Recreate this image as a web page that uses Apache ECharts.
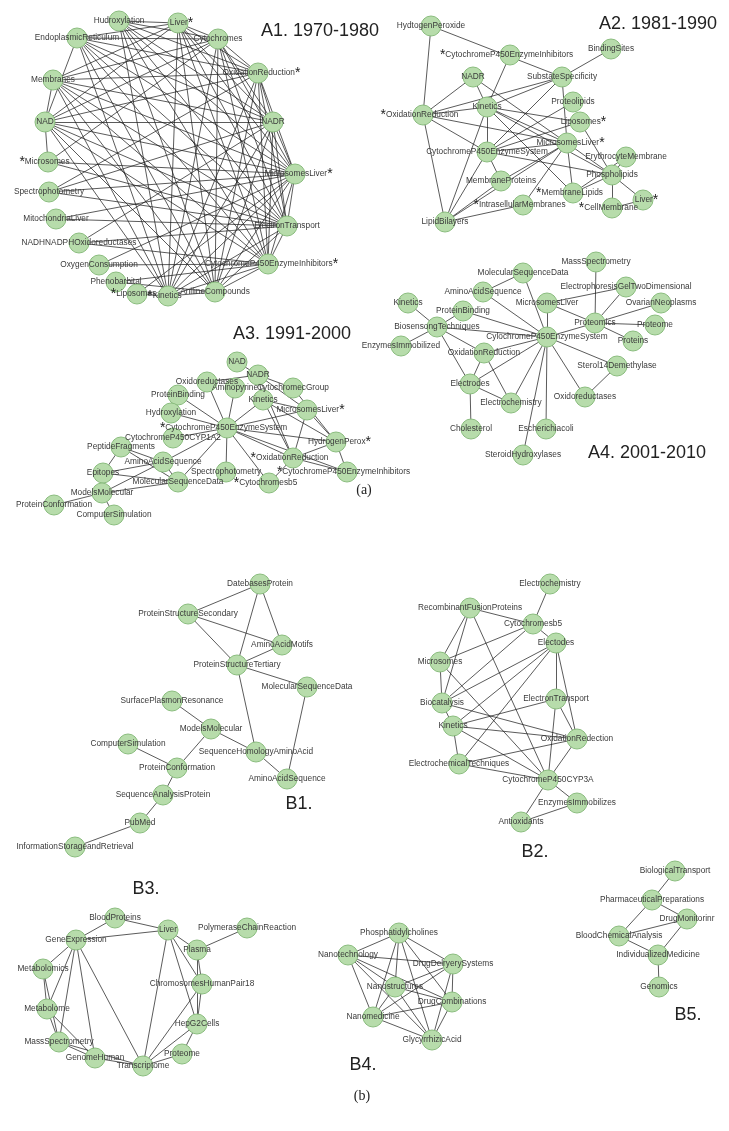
<!DOCTYPE html>
<html><head><meta charset="utf-8">
<script src="https://cdn.jsdelivr.net/npm/echarts/dist/echarts.min.js"></script>
<style>html,body{margin:0;padding:0;background:#fff}#c{width:729px;height:1131px}</style>
</head><body><div id="c"></div>
<script>
// ---------- DATA ----------
// Node lists: [label, x, y] (layout coordinates of the original figure, 729 x 1131 space)
const a1Nodes = [
  ["Hudroxylation",119,21],["Liver*",178,23],["EndoplasmicReticulum",77,38],["Cytochromes",218,39],
  ["OxidationReduction*",258,73],["Membranes",53,80],["NAD",45,122],["NADR",273,122],
  ["*Microsomes",48,162],["MicrosomesLiver*",295,174],["Spectrophotometry",49,192],["MitochondriaLiver",56,219],
  ["ElectronTransport",287,226],["NADHNADPHOxidoreductases",79,243],["CytochromeP450EnzymeInhibitors*",268,264],
  ["OxygenConsumption",99,265],["Phenobarbital",116,282],["AnilineCompounds",215,292],["*Liposomes",137,294],["*Kinetics",168,296]
];
// A1 adjacency (neighbour indices with higher index)
const a1Adj = [
  [1,3,4,7,9,12,14,17,19],
  [2,3,4,5,6,7,9,12,14,17,19],
  [3,4,6,7,9,12,14,17,19],
  [4,5,6,7,8,9,12,14,17,19],
  [5,6,7,9,10,12,14,17,19],
  [6,7,9,12,14,17,19],
  [7,8,9,12,14,17,19],
  [9,10,12,13,14,17,19],
  [9,12],
  [10,11,12,14,15,17,18,19],
  [12],
  [12],
  [13,14,17,19],
  [14],
  [15,16,17,19],
  [],
  [17],
  [19],
  [19],
  []
];

const a2Nodes = [
  ["HydtogenPeroxide",431,26],["*CytochromeP450EnzymeInhibitors",510,55],["BindingSites",611,49],["NADR",473,77],
  ["SubstateSpecificity",562,77],["Proteolipids",573,102],["Kinetics",487,107],["*OxidationReduction",423,115],
  ["Liposomes*",580,122],["MicrosomesLiver*",567,143],["CytochromeP450EnzymeSystem",487,152],["ErythrocyteMembrane",626,157],
  ["Phospholipids",612,175],["MembraneProteins",501,181],["*MembraneLipids",573,193],["*IntrasellularMembranes",523,205],
  ["Liver*",643,200],["*CellMembrane",612,208],["LipidBilayers",445,222]
];
const a2Links = [
  ["HydtogenPeroxide","*OxidationReduction"],["HydtogenPeroxide","SubstateSpecificity"],
  ["*CytochromeP450EnzymeInhibitors","Kinetics"],["BindingSites","SubstateSpecificity"],
  ["*OxidationReduction","NADR"],["*OxidationReduction","Kinetics"],["*OxidationReduction","SubstateSpecificity"],
  ["*OxidationReduction","CytochromeP450EnzymeSystem"],["*OxidationReduction","MicrosomesLiver*"],["*OxidationReduction","LipidBilayers"],
  ["NADR","Kinetics"],["NADR","MicrosomesLiver*"],
  ["Kinetics","SubstateSpecificity"],["Kinetics","CytochromeP450EnzymeSystem"],["Kinetics","Liposomes*"],["Kinetics","MicrosomesLiver*"],
  ["Kinetics","Phospholipids"],["Kinetics","*MembraneLipids"],["Kinetics","LipidBilayers"],
  ["SubstateSpecificity","CytochromeP450EnzymeSystem"],["SubstateSpecificity","MicrosomesLiver*"],
  ["Proteolipids","CytochromeP450EnzymeSystem"],["Liposomes*","CytochromeP450EnzymeSystem"],["Liposomes*","Phospholipids"],
  ["MicrosomesLiver*","CytochromeP450EnzymeSystem"],["MicrosomesLiver*","MembraneProteins"],["MicrosomesLiver*","*IntrasellularMembranes"],
  ["MicrosomesLiver*","*MembraneLipids"],["MicrosomesLiver*","Phospholipids"],["MicrosomesLiver*","LipidBilayers"],
  ["CytochromeP450EnzymeSystem","MembraneProteins"],["CytochromeP450EnzymeSystem","Phospholipids"],["CytochromeP450EnzymeSystem","LipidBilayers"],
  ["Phospholipids","ErythrocyteMembrane"],["Phospholipids","*MembraneLipids"],["Phospholipids","*CellMembrane"],["Phospholipids","Liver*"],
  ["*CellMembrane","Liver*"],["MembraneProteins","LipidBilayers"],["*IntrasellularMembranes","LipidBilayers"],["ErythrocyteMembrane","*MembraneLipids"]
];

const a3Nodes = [
  ["NAD",237,362],["NADR",258,375],["Oxidoreductases",207,382],["Aminopyrine",235,388],["CytochromecGroup",293,388],
  ["ProteinBinding",178,395],["Kinetics",263,400],["MicrosomesLiver*",307,410],["Hydroxylation",171,413],
  ["*CytochromeP450EnzymeSystem",227,428],["CytochromeP450CYP1A2",173,438],["HydrogenPerox*",336,442],
  ["PeptideFragments",121,447],["*OxidationReduction",293,458],["AminoAcidSequence",163,462],["Epitopes",103,473],
  ["Spectrophotometry",226,472],["*CytochromeP450EnzymeInhibitors",347,472],["MolecularSequenceData",178,482],
  ["*Cytochromesb5",269,483],["ModelsMolecular",102,493],["ProteinConformation",54,505],["ComputerSimulation",114,515]
];
const a3Links = [
  ["NAD","NADR"],["NADR","Oxidoreductases"],["NADR","Kinetics"],["NADR","CytochromecGroup"],["NADR","MicrosomesLiver*"],["NADR","*OxidationReduction"],
  ["Oxidoreductases","*CytochromeP450EnzymeSystem"],["Aminopyrine","*CytochromeP450EnzymeSystem"],["ProteinBinding","*CytochromeP450EnzymeSystem"],
  ["Hydroxylation","*CytochromeP450EnzymeSystem"],["Kinetics","*CytochromeP450EnzymeSystem"],["Kinetics","MicrosomesLiver*"],
  ["Kinetics","*OxidationReduction"],["Kinetics","HydrogenPerox*"],["CytochromecGroup","HydrogenPerox*"],
  ["MicrosomesLiver*","*CytochromeP450EnzymeSystem"],["MicrosomesLiver*","*OxidationReduction"],["MicrosomesLiver*","HydrogenPerox*"],
  ["*CytochromeP450EnzymeSystem","CytochromeP450CYP1A2"],["*CytochromeP450EnzymeSystem","HydrogenPerox*"],
  ["*CytochromeP450EnzymeSystem","AminoAcidSequence"],["*CytochromeP450EnzymeSystem","MolecularSequenceData"],
  ["*CytochromeP450EnzymeSystem","Spectrophotometry"],["*CytochromeP450EnzymeSystem","*OxidationReduction"],
  ["*CytochromeP450EnzymeSystem","*Cytochromesb5"],["*CytochromeP450EnzymeSystem","*CytochromeP450EnzymeInhibitors"],
  ["HydrogenPerox*","*OxidationReduction"],["HydrogenPerox*","*CytochromeP450EnzymeInhibitors"],
  ["*OxidationReduction","*Cytochromesb5"],["*OxidationReduction","*CytochromeP450EnzymeInhibitors"],
  ["PeptideFragments","Epitopes"],["PeptideFragments","AminoAcidSequence"],["PeptideFragments","MolecularSequenceData"],
  ["AminoAcidSequence","Epitopes"],["AminoAcidSequence","MolecularSequenceData"],["AminoAcidSequence","ModelsMolecular"],
  ["Epitopes","MolecularSequenceData"],["MolecularSequenceData","ModelsMolecular"],
  ["ModelsMolecular","ProteinConformation"],["ModelsMolecular","ComputerSimulation"]
];

const a4Nodes = [
  ["MassSpectrometry",596,262],["MolecularSequenceData",523,273],["ElectrophoresisGelTwoDimensional",626,287],
  ["AminoAcidSequence",483,292],["Kinetics",408,303],["MicrosomesLiver",547,303],["OvarianNeoplasms",661,303],
  ["ProteinBinding",463,311],["Proteomics",595,323],["Proteome",655,325],["BiosensongTechniques",437,327],
  ["CylochromeP450EnzymeSystem",547,337],["Proteins",633,341],["EnzymesImmobilized",401,346],["OxidationReduction",484,353],
  ["Sterol14Demethylase",617,366],["Electrodes",470,384],["Oxidoreductases",585,397],["Electrochemistry",511,403],
  ["Cholesterol",471,429],["Escherichiacoli",546,429],["SteroidHydroxylases",523,455]
];
const a4Links = [
  ["MolecularSequenceData","AminoAcidSequence"],["MolecularSequenceData","CylochromeP450EnzymeSystem"],
  ["AminoAcidSequence","CylochromeP450EnzymeSystem"],["Kinetics","BiosensongTechniques"],
  ["ProteinBinding","BiosensongTechniques"],["ProteinBinding","CylochromeP450EnzymeSystem"],
  ["MicrosomesLiver","CylochromeP450EnzymeSystem"],["MicrosomesLiver","Proteomics"],["MicrosomesLiver","ElectrophoresisGelTwoDimensional"],
  ["MassSpectrometry","Proteomics"],["ElectrophoresisGelTwoDimensional","Proteomics"],["OvarianNeoplasms","Proteomics"],
  ["Proteome","Proteomics"],["Proteins","Proteomics"],["Proteomics","CylochromeP450EnzymeSystem"],
  ["BiosensongTechniques","CylochromeP450EnzymeSystem"],["BiosensongTechniques","EnzymesImmobilized"],
  ["BiosensongTechniques","OxidationReduction"],["BiosensongTechniques","Electrodes"],
  ["CylochromeP450EnzymeSystem","OxidationReduction"],["CylochromeP450EnzymeSystem","Electrodes"],
  ["CylochromeP450EnzymeSystem","Electrochemistry"],["CylochromeP450EnzymeSystem","Escherichiacoli"],
  ["CylochromeP450EnzymeSystem","SteroidHydroxylases"],["CylochromeP450EnzymeSystem","Oxidoreductases"],
  ["CylochromeP450EnzymeSystem","Sterol14Demethylase"],["OxidationReduction","Electrodes"],["OxidationReduction","Electrochemistry"],
  ["Electrodes","Electrochemistry"],["Electrodes","Cholesterol"],["Sterol14Demethylase","Oxidoreductases"]
];

const b1Nodes = [
  ["DatebasesProtein",260,584],["ProteinStructureSecondary",188,614],["AminoAcidMotifs",282,645],
  ["ProteinStructureTertiary",237,665],["MolecularSequenceData",307,687],["SurfacePlasmonResonance",172,701],
  ["ModelsMolecular",211,729],["ComputerSimulation",128,744],["SequenceHomologyAminoAcid",256,752],
  ["ProteinConformation",177,768],["AminoAcidSequence",287,779],["SequenceAnalysisProtein",163,795],
  ["PubMed",140,823],["InformationStorageandRetrieval",75,847]
];
const b1Links = [
  ["DatebasesProtein","ProteinStructureSecondary"],["DatebasesProtein","AminoAcidMotifs"],["DatebasesProtein","ProteinStructureTertiary"],
  ["ProteinStructureSecondary","AminoAcidMotifs"],["ProteinStructureSecondary","ProteinStructureTertiary"],
  ["AminoAcidMotifs","ProteinStructureTertiary"],["ProteinStructureTertiary","MolecularSequenceData"],
  ["ProteinStructureTertiary","SequenceHomologyAminoAcid"],["MolecularSequenceData","AminoAcidSequence"],
  ["SurfacePlasmonResonance","ModelsMolecular"],["ModelsMolecular","SequenceHomologyAminoAcid"],["ModelsMolecular","ProteinConformation"],
  ["SequenceHomologyAminoAcid","AminoAcidSequence"],["ComputerSimulation","ProteinConformation"],
  ["ProteinConformation","SequenceAnalysisProtein"],["SequenceAnalysisProtein","PubMed"],["PubMed","InformationStorageandRetrieval"]
];

const b2Nodes = [
  ["Electrochemistry",550,584],["RecombinantFusionProteins",470,608],["Cytochromesb5",533,624],["Electodes",556,643],
  ["Microsomes",440,662],["Biocatalysis",442,703],["ElectronTransport",556,699],["Kinetics",453,726],
  ["OxidationRedection",577,739],["ElectrochemicalTechniques",459,764],["CytochromeP450CYP3A",548,780],
  ["EnzymesImmobilizes",577,803],["Antioxidants",521,822]
];
const b2Links = [
  ["Electrochemistry","Cytochromesb5"],["RecombinantFusionProteins","Cytochromesb5"],["RecombinantFusionProteins","Microsomes"],
  ["RecombinantFusionProteins","Biocatalysis"],["RecombinantFusionProteins","CytochromeP450CYP3A"],
  ["Cytochromesb5","Electodes"],["Cytochromesb5","Microsomes"],["Cytochromesb5","Biocatalysis"],
  ["Electodes","Biocatalysis"],["Electodes","Kinetics"],["Electodes","ElectronTransport"],["Electodes","OxidationRedection"],
  ["Electodes","ElectrochemicalTechniques"],["Microsomes","Biocatalysis"],["Microsomes","CytochromeP450CYP3A"],
  ["Biocatalysis","Kinetics"],["Biocatalysis","OxidationRedection"],["ElectronTransport","Kinetics"],
  ["ElectronTransport","OxidationRedection"],["ElectronTransport","CytochromeP450CYP3A"],["Kinetics","OxidationRedection"],
  ["Kinetics","ElectrochemicalTechniques"],["Kinetics","CytochromeP450CYP3A"],["OxidationRedection","ElectrochemicalTechniques"],
  ["OxidationRedection","CytochromeP450CYP3A"],["ElectrochemicalTechniques","CytochromeP450CYP3A"],
  ["CytochromeP450CYP3A","EnzymesImmobilizes"],["CytochromeP450CYP3A","Antioxidants"],["Antioxidants","EnzymesImmobilizes"]
];

const b3Nodes = [
  ["BloodProteins",115,918],["Liver",168,930],["PolymeraseChainReaction",247,928],["GeneExpression",76,940],
  ["Plasma",197,950],["Metabolomics",43,969],["ChromosomesHumanPair18",202,984],["Metabolome",47,1009],
  ["HepG2Cells",197,1024],["MassSpectrometry",59,1042],["Proteome",182,1054],["GenomeHuman",95,1058],["Transcriptome",143,1066]
];
const b3Links = [
  ["BloodProteins","GeneExpression"],["BloodProteins","Liver"],["GeneExpression","Liver"],["GeneExpression","Metabolomics"],
  ["GeneExpression","Metabolome"],["GeneExpression","MassSpectrometry"],["GeneExpression","GenomeHuman"],["GeneExpression","Transcriptome"],
  ["Liver","Plasma"],["Liver","ChromosomesHumanPair18"],["Liver","HepG2Cells"],["Liver","Transcriptome"],
  ["PolymeraseChainReaction","Plasma"],["Plasma","ChromosomesHumanPair18"],["Plasma","HepG2Cells"],
  ["Metabolomics","Metabolome"],["Metabolomics","MassSpectrometry"],["ChromosomesHumanPair18","HepG2Cells"],
  ["ChromosomesHumanPair18","Transcriptome"],["Metabolome","MassSpectrometry"],["Metabolome","GenomeHuman"],
  ["HepG2Cells","Proteome"],["HepG2Cells","Transcriptome"],["Proteome","Transcriptome"],
  ["MassSpectrometry","GenomeHuman"],["MassSpectrometry","Transcriptome"],["GenomeHuman","Transcriptome"]
];

const b4Nodes = [
  ["Phosphatidylcholines",399,933],["Nanotechnology",348,955],["DrugDelryerySystems",453,964],["Nanostructures",395,987],
  ["DrugCombinations",452,1002],["Nanomedicine",373,1017],["GlycyrrhizicAcid",432,1040]
];
const b4Links = [
  ["Phosphatidylcholines","Nanotechnology"],["Phosphatidylcholines","DrugDelryerySystems"],["Phosphatidylcholines","Nanostructures"],
  ["Phosphatidylcholines","DrugCombinations"],["Phosphatidylcholines","Nanomedicine"],["Phosphatidylcholines","GlycyrrhizicAcid"],
  ["Nanotechnology","DrugDelryerySystems"],["Nanotechnology","Nanostructures"],["Nanotechnology","DrugCombinations"],
  ["Nanotechnology","Nanomedicine"],["Nanotechnology","GlycyrrhizicAcid"],["DrugDelryerySystems","Nanostructures"],
  ["DrugDelryerySystems","DrugCombinations"],["DrugDelryerySystems","Nanomedicine"],["DrugDelryerySystems","GlycyrrhizicAcid"],
  ["Nanostructures","DrugCombinations"],["Nanostructures","Nanomedicine"],["Nanostructures","GlycyrrhizicAcid"],
  ["DrugCombinations","Nanomedicine"],["DrugCombinations","GlycyrrhizicAcid"],["Nanomedicine","GlycyrrhizicAcid"]
];

const b5Nodes = [
  ["BiologicalTransport",675,871],["PharmaceuticalPreparations",652,900],["DrugMonitorinr",687,919],
  ["BloodChemicalAnalysis",619,936],["IndividualizedMedicine",658,955],["Genomics",659,987]
];
const b5Links = [
  ["BiologicalTransport","PharmaceuticalPreparations"],["PharmaceuticalPreparations","DrugMonitorinr"],
  ["PharmaceuticalPreparations","BloodChemicalAnalysis"],["DrugMonitorinr","BloodChemicalAnalysis"],
  ["DrugMonitorinr","IndividualizedMedicine"],["BloodChemicalAnalysis","IndividualizedMedicine"],["IndividualizedMedicine","Genomics"]
];

const panelTitles = ["A1. 1970-1980","A2. 1981-1990","A3. 1991-2000","A4. 2001-2010","B1.","B2.","B3.","B4.","B5."];
const captions = ["(a)","(b)"];

// ---------- BUILD ----------
const a1Links = [];
a1Adj.forEach((nb, i) => nb.forEach(j => a1Links.push([a1Nodes[i][0], a1Nodes[j][0]])));

function fmt(p) {
  const n = p.name;
  if (n.charAt(0) === '*') return '{s|*}' + n.slice(1);
  if (n.charAt(n.length - 1) === '*') return n.slice(0, -1) + '{s|*}';
  return n;
}
function makeSeries(nodes, links) {
  const idx = {};
  nodes.forEach((n, i) => idx[n[0]] = i);
  return {
    type: 'graph', layout: 'none', coordinateSystem: 'cartesian2d',
    symbol: 'circle', symbolSize: 20, silent: true, animation: false,
    itemStyle: { color: '#b7dcab', borderColor: '#8bbd7f', borderWidth: 1 },
    lineStyle: { color: '#1a1a1a', width: 0.8, opacity: 0.9, curveness: 0 },
    label: {
      show: true, position: 'inside', fontSize: 8.3, color: '#3a3a3a',
      fontFamily: 'Liberation Sans, Arial, sans-serif', formatter: fmt,
      rich: { s: { fontSize: 14, color: '#222', fontFamily: 'Liberation Sans, Arial, sans-serif' } }
    },
    emphasis: { disabled: true },
    data: nodes.map(n => {
      let off = 0;
      if (n[0].charAt(0) === '*') off = -3.5;
      else if (n[0].charAt(n[0].length - 1) === '*') off = 3.5;
      return { name: n[0], value: [n[1], n[2]], label: { offset: [off, 0] } };
    }),
    links: links.map(l => ({ source: idx[l[0]], target: idx[l[1]] }))
  };
}

const titlePos = [[320,31],[658,24],[292,334],[647,453],[299,804],[535,852],[146,889],[363,1065],[688,1015]];
const capPos = [[364,490],[362,1096]];
const graphic = [];
panelTitles.forEach((t, i) => graphic.push({
  type: 'text', x: titlePos[i][0], y: titlePos[i][1], silent: true,
  style: { text: t, fill: '#222', font: '18px "Liberation Sans", Arial, sans-serif', align: 'center', verticalAlign: 'middle' }
}));
captions.forEach((t, i) => graphic.push({
  type: 'text', x: capPos[i][0], y: capPos[i][1], silent: true,
  style: { text: t, fill: '#222', font: '14px "Liberation Serif", serif', align: 'center', verticalAlign: 'middle' }
}));

const chart = echarts.init(document.getElementById('c'), null, { renderer: 'canvas' });
chart.setOption({
  animation: false,
  backgroundColor: '#fff',
  grid: { left: 0, right: 0, top: 0, bottom: 0 },
  xAxis: { type: 'value', min: 0, max: 729, show: false },
  yAxis: { type: 'value', min: 0, max: 1131, inverse: true, show: false },
  graphic: graphic,
  series: [
    makeSeries(a1Nodes, a1Links), makeSeries(a2Nodes, a2Links), makeSeries(a3Nodes, a3Links),
    makeSeries(a4Nodes, a4Links), makeSeries(b1Nodes, b1Links), makeSeries(b2Nodes, b2Links),
    makeSeries(b3Nodes, b3Links), makeSeries(b4Nodes, b4Links), makeSeries(b5Nodes, b5Links)
  ]
});
</script></body></html>
